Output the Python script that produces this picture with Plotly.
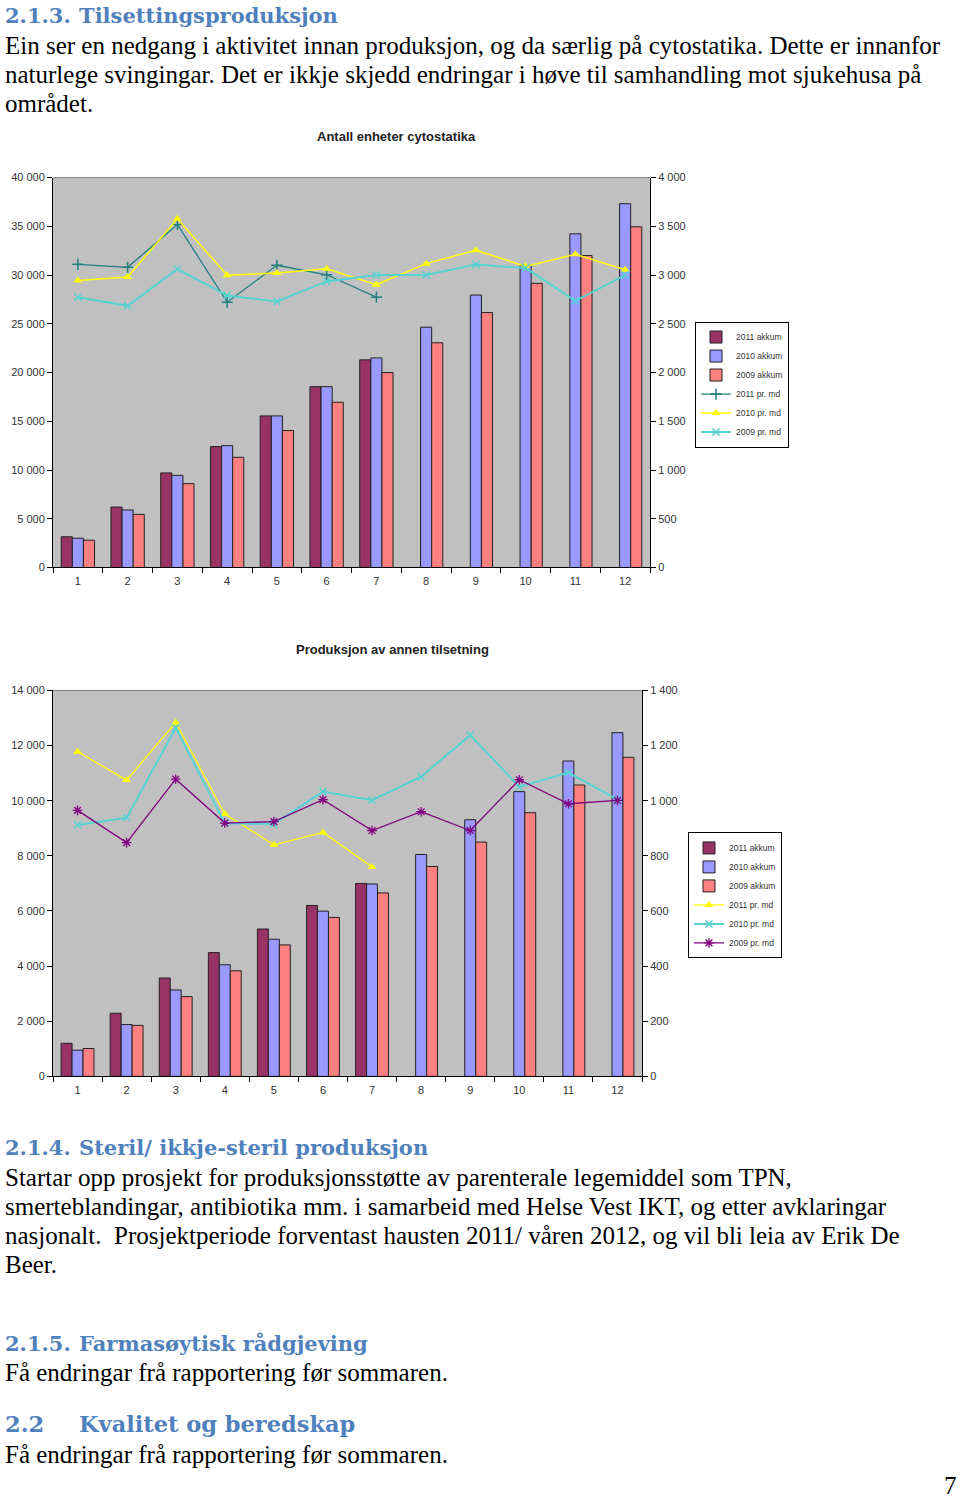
import plotly.graph_objects as go

W, H = 960, 1498

# ---------------- data ----------------
months = ["1", "2", "3", "4", "5", "6", "7", "8", "9", "10", "11", "12"]

# Chart 1: Antall enheter cytostatika
cyto_2011_akkum = [3150, 6200, 9700, 12400, 15550, 18550, 21300]
cyto_2010_akkum = [3000, 5900, 9450, 12500, 15550, 18550, 21500, 24650, 27950, 31000, 34230, 37320]
cyto_2009_akkum = [2800, 5450, 8600, 11300, 14050, 16950, 20000, 23050, 26150, 29150, 32000, 34950]
cyto_2011_md = [3110, 3079, 3519, 2722, 3100, 3003, 2773]
cyto_2010_md = [2945, 2979, 3577, 2997, 3021, 3065, 2900, 3117, 3254, 3089, 3213, 3055]
cyto_2009_md = [2773, 2684, 3062, 2790, 2729, 2935, 3000, 3000, 3107, 3072, 2735, 3000]

# Chart 2: Produksjon av annen tilsetning
annen_2011_akkum = [1200, 2290, 3570, 4490, 5345, 6200, 7000]
annen_2010_akkum = [950, 1880, 3135, 4050, 4975, 5995, 6980, 8050, 9310, 10330, 11440, 12470]
annen_2009_akkum = [1010, 1850, 2895, 3830, 4770, 5765, 6655, 7615, 8500, 9565, 10570, 11575]
annen_2011_md = [1178, 1075, 1284, 952, 840, 885, 760]
annen_2010_md = [912, 938, 1265, 918, 916, 1033, 1002, 1087, 1238, 1050, 1102, 1005]
annen_2009_md = [965, 848, 1078, 919, 924, 1004, 892, 960, 892, 1076, 989, 1001]

labels_akkum = ["2011 akkum", "2010 akkum", "2009 akkum"]
labels_md = ["2011 pr. md", "2010 pr. md", "2009 pr. md"]

C_2011 = "#993366"
C_2010 = "#9999FF"
C_2009 = "#FF8080"
TEAL = "#1F7F7F"
YELLOW = "#FFFF00"
CYAN = "#55D3D3"
PURPLE = "#800080"
BG = "#C0C0C0"
AXFONT = dict(family="Liberation Sans, Arial", size=11, color="#333333")


def px_x(p):
    return p / W


def px_y(p):
    # small vertical calibration so page positions line up with the reference
    q = 1.00786 * p - 6.44
    return 1 - q / H


fig = go.Figure()

# ---------- chart 1 ----------
for name, vals, col in zip(labels_akkum, [cyto_2011_akkum, cyto_2010_akkum, cyto_2009_akkum],
                           [C_2011, C_2010, C_2009]):
    fig.add_trace(go.Bar(x=months[:len(vals)], y=vals, name=name,
                         marker=dict(color=col, line=dict(color="#222222", width=1)),
                         xaxis="x", yaxis="y", legend="legend", offsetgroup=name))

fig.add_trace(go.Scatter(x=months[:len(cyto_2011_md)], y=cyto_2011_md, name=labels_md[0], mode="lines+markers",
                         line=dict(color=TEAL, width=1.3),
                         marker=dict(symbol="cross-thin-open", size=8, line=dict(color=TEAL, width=1.5)),
                         xaxis="x", yaxis="y2", legend="legend"))
fig.add_trace(go.Scatter(x=months, y=cyto_2010_md, name=labels_md[1], mode="lines+markers",
                         line=dict(color=YELLOW, width=1.5),
                         marker=dict(symbol="triangle-up", size=8, color=YELLOW),
                         xaxis="x", yaxis="y2", legend="legend"))
fig.add_trace(go.Scatter(x=months, y=cyto_2009_md, name=labels_md[2], mode="lines+markers",
                         line=dict(color=CYAN, width=2),
                         marker=dict(symbol="x-thin-open", size=7, line=dict(color=CYAN, width=1.5)),
                         xaxis="x", yaxis="y2", legend="legend"))

# ---------- chart 2 ----------
for name, vals, col in zip(labels_akkum, [annen_2011_akkum, annen_2010_akkum, annen_2009_akkum],
                           [C_2011, C_2010, C_2009]):
    fig.add_trace(go.Bar(x=months[:len(vals)], y=vals, name=name,
                         marker=dict(color=col, line=dict(color="#222222", width=1)),
                         xaxis="x2", yaxis="y3", legend="legend2", offsetgroup=name))

fig.add_trace(go.Scatter(x=months[:len(annen_2011_md)], y=annen_2011_md, name=labels_md[0], mode="lines+markers",
                         line=dict(color=YELLOW, width=1.3),
                         marker=dict(symbol="triangle-up", size=8, color=YELLOW),
                         xaxis="x2", yaxis="y4", legend="legend2"))
fig.add_trace(go.Scatter(x=months, y=annen_2010_md, name=labels_md[1], mode="lines+markers",
                         line=dict(color=CYAN, width=2),
                         marker=dict(symbol="x-thin-open", size=7, line=dict(color=CYAN, width=1.5)),
                         xaxis="x2", yaxis="y4", legend="legend2"))
fig.add_trace(go.Scatter(x=months, y=annen_2009_md, name=labels_md[2], mode="lines+markers",
                         line=dict(color=PURPLE, width=1.3),
                         marker=dict(symbol="asterisk-open", size=8, line=dict(color=PURPLE, width=1.3)),
                         xaxis="x2", yaxis="y4", legend="legend2"))

# plot rects (reference page pixels)
P1 = dict(x0=53, x1=650, y0=178, y1=568)
P2 = dict(x0=53, x1=642, y0=691, y1=1077)

common_x = dict(type="category", tickson="boundaries", ticks="outside", ticklen=5, tickcolor="#000",
                showline=True, linecolor="#000", linewidth=1, showgrid=False, tickfont=AXFONT,
                ticklabelstandoff=3, range=[-0.5, 11.5], fixedrange=True)
common_y = dict(ticks="outside", ticklen=5, tickcolor="#000", showline=True, linecolor="#000", linewidth=1,
                showgrid=False, zeroline=False, tickfont=AXFONT, tickformat=",d")
LEGFONT = dict(family="Liberation Sans, Arial", size=8.5, color="#333")

fig.update_layout(
    width=W, height=H, margin=dict(l=0, r=0, t=0, b=0),
    paper_bgcolor="white", plot_bgcolor=BG,
    separators=", ",
    barmode="group", bargap=0.33, bargroupgap=0,
    showlegend=True,
    xaxis=dict(domain=[px_x(P1["x0"]), px_x(P1["x1"])], anchor="y", **common_x),
    yaxis=dict(domain=[px_y(P1["y1"]), px_y(P1["y0"])], anchor="x", range=[0, 40000], dtick=5000, **common_y),
    yaxis2=dict(overlaying="y", side="right", anchor="x", range=[0, 4000], dtick=500, **common_y),
    xaxis2=dict(domain=[px_x(P2["x0"]), px_x(P2["x1"])], anchor="y3", **common_x),
    yaxis3=dict(domain=[px_y(P2["y1"]), px_y(P2["y0"])], anchor="x2", range=[0, 14000], dtick=2000, **common_y),
    yaxis4=dict(overlaying="y3", side="right", anchor="x2", range=[0, 1400], dtick=200, **common_y),
    legend=dict(x=px_x(695), y=px_y(322), xanchor="left", yanchor="top", bgcolor="white",
                bordercolor="#000", borderwidth=1, font=LEGFONT, itemwidth=30, tracegroupgap=0),
    legend2=dict(x=px_x(688), y=px_y(833), xanchor="left", yanchor="top", bgcolor="white",
                 bordercolor="#000", borderwidth=1, font=LEGFONT, itemwidth=30, tracegroupgap=0),
)

# plot area borders (gray top)
for P in (P1, P2):
    fig.add_shape(type="line", xref="paper", yref="paper", x0=px_x(P["x0"]), x1=px_x(P["x1"]),
                  y0=px_y(P["y0"]), y1=px_y(P["y0"]), line=dict(color="#808080", width=1))

HEAD = "#4F81BD"
SERIF = "Liberation Serif, Times New Roman, serif"
HEADFONT = "DejaVu Serif, Liberation Serif, serif"


def text(x, y, s, size=25, color="#000", bold=False, family=SERIF, anchor="left"):
    fig.add_annotation(x=px_x(x), y=px_y(y), xref="paper", yref="paper",
                       text=("<b>%s</b>" % s) if bold else s,
                       showarrow=False, xanchor=anchor, yanchor="middle",
                       font=dict(family=family, size=size, color=color))


# chart titles
text(396, 137, "Antall enheter cytostatika", size=13, bold=True, family="Liberation Sans, Arial",
     anchor="center", color="#222")
text(392, 650, "Produksjon av annen tilsetning", size=13, bold=True, family="Liberation Sans, Arial",
     anchor="center", color="#222")

# document text
text(3, 16, "2.1.3.", size=21, bold=True, color=HEAD, family=HEADFONT)
text(77, 16, "Tilsettingsproduksjon", size=21, bold=True, color=HEAD, family=HEADFONT)
text(3, 46, "Ein ser en nedgang i aktivitet innan produksjon, og da særlig på cytostatika. Dette er innanfor")
text(3, 75, "naturlege svingingar. Det er ikkje skjedd endringar i høve til samhandling mot sjukehusa på")
text(3, 104, "området.")

text(3, 1148, "2.1.4.", size=21, bold=True, color=HEAD, family=HEADFONT)
text(77, 1148, "Steril/ ikkje-steril produksjon", size=21, bold=True, color=HEAD, family=HEADFONT)
text(3, 1178, "Startar opp prosjekt for produksjonsstøtte av parenterale legemiddel som TPN,")
text(3, 1207, "smerteblandingar, antibiotika mm. i samarbeid med Helse Vest IKT, og etter avklaringar")
text(3, 1236, "nasjonalt.  Prosjektperiode forventast hausten 2011/ våren 2012, og vil bli leia av Erik De")
text(3, 1265, "Beer.")

text(3, 1344, "2.1.5.", size=21, bold=True, color=HEAD, family=HEADFONT)
text(77, 1344, "Farmasøytisk rådgjeving", size=21, bold=True, color=HEAD, family=HEADFONT)
text(3, 1373, "Få endringar frå rapportering før sommaren.")

text(3, 1425, "2.2", size=22.5, bold=True, color=HEAD, family=HEADFONT)
text(77, 1425, "Kvalitet og beredskap", size=22.5, bold=True, color=HEAD, family=HEADFONT)
text(3, 1455, "Få endringar frå rapportering før sommaren.")

text(959, 1486, "7", size=25, anchor="right")

# remove the default 8px page margin so the figure fills the window exactly
fig.write_html("out.html", config={"displayModeBar": False},
               post_script="document.body.style.margin='0';document.body.style.overflow='hidden';")
